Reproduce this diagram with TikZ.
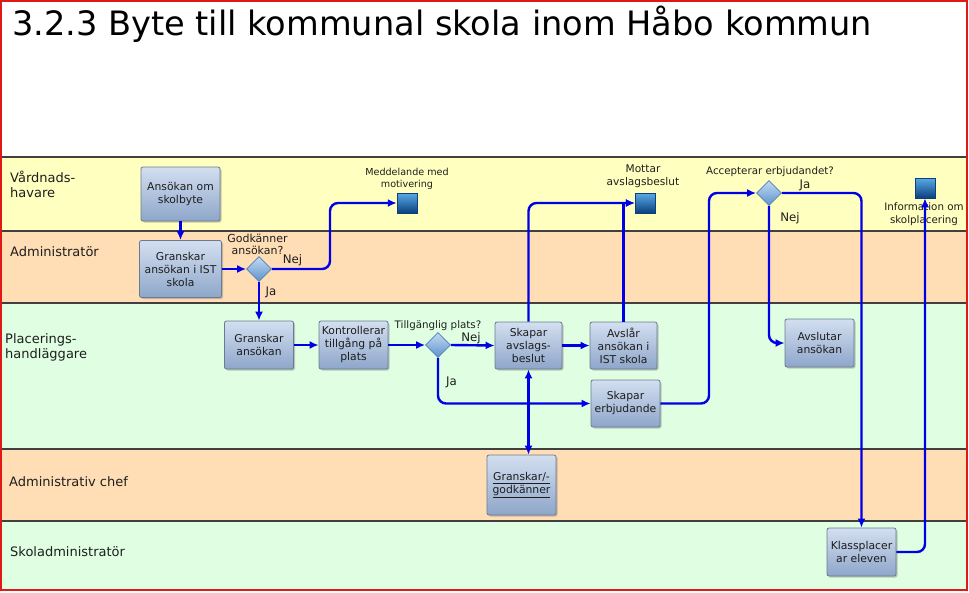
\documentclass[tikz,border=0pt]{standalone}
\usepackage{fontspec}
\setmainfont{DejaVu Sans}
\usetikzlibrary{arrows.meta,shapes.geometric,shadows}
\definecolor{laneyellow}{HTML}{FFFFC0}
\definecolor{lanepeach}{HTML}{FFDEB6}
\definecolor{lanegreen}{HTML}{E0FFE2}
\definecolor{laneline}{HTML}{404040}
\definecolor{frame}{HTML}{E01818}
\definecolor{flowblue}{HTML}{0000E6}
\definecolor{boxtop}{HTML}{D3DFF0}
\definecolor{boxbot}{HTML}{8EA6CA}
\definecolor{boxedge}{HTML}{6A7A90}
\definecolor{dtop}{HTML}{C2DAF2}
\definecolor{dbot}{HTML}{5F93CC}
\definecolor{dedge}{HTML}{4F7FB5}
\definecolor{sqtop}{HTML}{5AAAE6}
\definecolor{sqbot}{HTML}{0B3F7E}
\definecolor{txt}{HTML}{1E1E1E}
\tikzset{
  lanefill/.style={draw=none},
  laneborder/.style={draw=laneline, line width=1.5pt},
  lanelabel/.style={anchor=base west, font=\fontsize{13}{15}\selectfont, text=txt, align=left, inner sep=0pt},
  taskbox/.style={draw=boxedge, line width=0.8pt, rounded corners=2pt, top color=boxtop, bottom color=boxbot,
     align=center, font=\fontsize{10.8}{13}\selectfont, text=txt, inner sep=1pt,
     drop shadow={shadow xshift=1.5pt, shadow yshift=-1.5pt, opacity=0.35, fill=black!60}},
  gate/.style={diamond, draw=dedge, line width=0.8pt, top color=dtop, bottom color=dbot,
     minimum width=25pt, minimum height=25pt, inner sep=0pt},
  docsq/.style={draw=sqbot, line width=0.5pt, top color=sqtop, bottom color=sqbot,
     minimum width=20pt, minimum height=20pt, inner sep=0pt},
  small/.style={font=\fontsize{10.3}{12.5}\selectfont, text=txt, align=center, inner sep=0pt},
  answer/.style={font=\fontsize{11.8}{13}\selectfont, text=txt, inner sep=0pt},
  flow/.style={draw=flowblue, line width=2.4pt, rounded corners=8pt, -{Latex[length=9pt,width=8pt]}},
  flowboth/.style={draw=flowblue, line width=2.4pt, {Latex[length=9pt,width=8pt]}-{Latex[length=9pt,width=8pt]}},
}
\begin{document}
\begin{tikzpicture}[x=1pt,y=-1pt]
\useasboundingbox (0,0) rectangle (969,592);
% background
\fill[white] (1,1) rectangle (967,157);
\fill[laneyellow] (1,157) rectangle (967,231);
\fill[lanepeach] (1,231) rectangle (967,303);
\fill[lanegreen] (1,303) rectangle (967,449);
\fill[lanepeach] (1,449) rectangle (967,521);
\fill[lanegreen] (1,521) rectangle (967,590);
\foreach \yy in {157,231,303,449,521} \draw[laneborder] (1,\yy) -- (967,\yy);
\draw[frame, line width=1.6pt] (1,1) rectangle (967,590);

% title
\node[anchor=base west, inner sep=0pt, font=\fontsize{33.6}{40}\selectfont, text=black] (title) at (12,35) {3.2.3 Byte till kommunal skola inom Håbo kommun};

% lane labels (base = last line)
\node[lanelabel] (l1) at (10,197) {Vårdnads-\\havare};
\node[lanelabel] (l2) at (10,256) {Administratör};
\node[lanelabel] (l3) at (5,358) {Placerings-\\handläggare};
\node[lanelabel] (l4) at (9,486) {Administrativ chef};
\node[lanelabel] (l5) at (10,556) {Skoladministratör};

% tasks
\node[taskbox, minimum width=79pt, minimum height=54pt] (ansokan) at (180.5,194) {Ansökan om\\skolbyte};
\node[taskbox, minimum width=82pt, minimum height=57pt] (granskIST) at (180.5,269) {Granskar\\ansökan i IST\\skola};
\node[taskbox, minimum width=69pt, minimum height=48pt] (granskAns) at (259,345) {Granskar\\ansökan};
\node[taskbox, minimum width=69pt, minimum height=48pt] (kontroll) at (353.5,345) {Kontrollerar\\tillgång på\\plats};
\node[taskbox, minimum width=67pt, minimum height=47pt] (avslag) at (528.5,345.5) {Skapar\\avslags-\\beslut};
\node[taskbox, minimum width=67pt, minimum height=47pt] (avslar) at (623.5,345.5) {Avslår\\ansökan i\\IST skola};
\node[taskbox, minimum width=69pt, minimum height=47pt] (erbjud) at (625.5,403.5) {Skapar\\erbjudande};
\node[taskbox, minimum width=69pt, minimum height=48pt] (avslutar) at (819.5,343) {Avslutar\\ansökan};
\node[taskbox, minimum width=69pt, minimum height=60pt] (godk2) at (521.5,485) {\underline{Granskar/-}\\\underline{godkänner}};
\node[taskbox, minimum width=69pt, minimum height=48pt] (klass) at (861.5,552) {Klassplacer\\ar eleven};

% gateways
\node[gate] (godk) at (259,269) {};
\node[gate] (tillg) at (438,345) {};
\node[gate] (accept) at (769,193) {};

% message squares
\node[docsq] (medd) at (407,203) {};
\node[docsq] (mottar) at (645,203) {};
\node[docsq] (info) at (925,188) {};

% labels
\node[small, font=\fontsize{11}{12}\selectfont] (lgodk) at (257.5,244) {Godkänner\\ansökan?};
\node[small] (ltillg) at (438,326) {Tillgänglig plats?};
\node[small] (lacc) at (770,172) {Accepterar erbjudandet?};
\node[small, font=\fontsize{9.6}{12}\selectfont] (lmedd) at (407,179) {Meddelande med\\motivering};
\node[small, font=\fontsize{10.6}{13}\selectfont] (lmottar) at (643,176) {Mottar\\avslagsbeslut};
\node[small] (linfo) at (924,214) {Information om\\skolplacering};

\node[answer] (n1) at (292.5,260) {Nej};
\node[answer] (j1) at (271,292) {Ja};
\node[answer] (n2) at (471,338) {Nej};
\node[answer] (j2) at (451.5,382) {Ja};
\node[answer] (j3) at (805,185) {Ja};
\node[answer] (n3) at (790,218) {Nej};

% helper coordinates
\coordinate (k1) at (330,0);
\coordinate (k2) at (709,0);

% connectors
\draw[flow] (ansokan.south) -- (granskIST.north);
\draw[flow] (granskIST.east) -- (godk.west);
\draw[flow] (godk.east) -- (godk.east -| k1) -- (k1 |- medd.west) -- (medd.west);
\draw[flow] (godk.south) -- (granskAns.north);
\draw[flow] (granskAns.east) -- (kontroll.west);
\draw[flow] (kontroll.east) -- (tillg.west);
\draw[flow] (tillg.east) -- (avslag.west);
\draw[flow] (tillg.south) |- (erbjud.west);
\draw[flow] (avslag.east) -- (avslar.west);
\draw[flow] (avslag.north) |- (mottar.west);
\draw[flow, rounded corners=0pt] (avslar.north) |- (mottar.west);
\draw[flowboth] (avslag.south) -- (avslag.south |- godk2.north);
\draw[flow] (erbjud.east) -- (erbjud.east -| k2) -- (k2 |- accept.west) -- (accept.west);
\draw[flow] (accept.east) -| (klass.north);
\draw[flow] (accept.south) |- (avslutar.west);
\draw[flow] (klass.east) -| (info.south);
\end{tikzpicture}
\end{document}
